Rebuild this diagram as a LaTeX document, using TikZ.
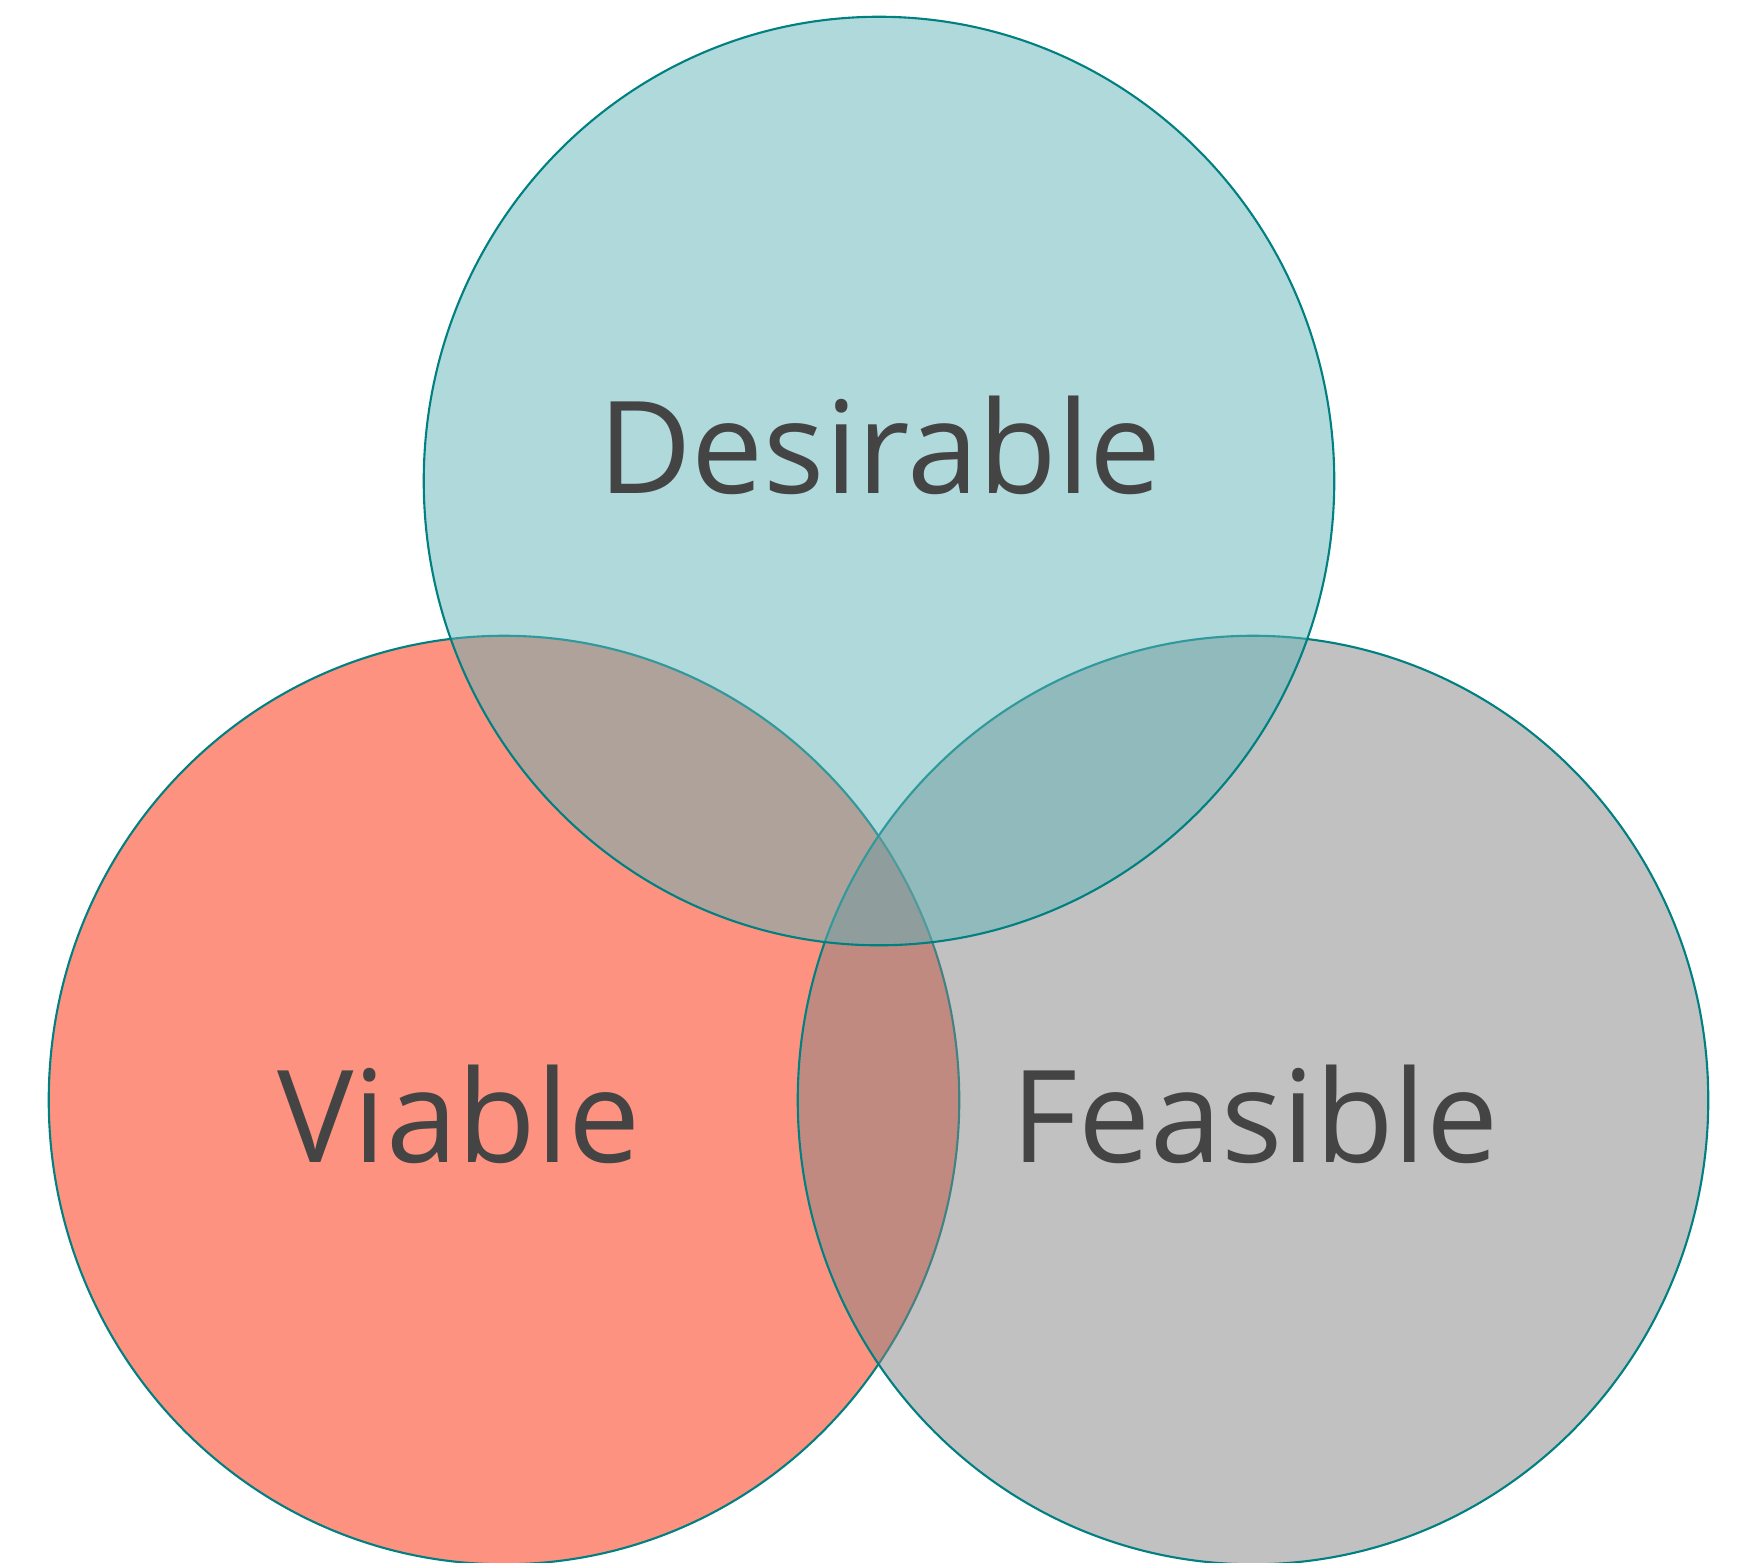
\documentclass[tikz,border=0pt]{standalone}
\usepackage{fontspec}
\setmainfont{Open Sans}
\definecolor{viablefill}{RGB}{250,38,0}
\definecolor{feasiblefill}{RGB}{132,132,132}
\definecolor{desirablefill}{RGB}{97,179,183}
\definecolor{rimteal}{RGB}{0,128,128}
\definecolor{labelgray}{RGB}{68,68,68}
\begin{document}
\begin{tikzpicture}[
  x=0.01cm, y=-0.01cm,
  set/.style={draw=rimteal, line width=0.6pt, fill opacity=0.5},
  setlabel/.style={anchor=base, text=labelgray, inner sep=0pt,
    font=\fontsize{36.5}{44}\selectfont}]

  \useasboundingbox (0,0) rectangle (1737,1562);
  \foreach \cx/\cy/\col in {504/1100/viablefill, 1253/1100/feasiblefill, 879/481/desirablefill}{
    \path[set, fill=\col] (\cx,\cy) ellipse [x radius=4.55cm, y radius=4.64cm];
  }
  \node[setlabel] (desirable) at (880,493) {Desirable};
  \node[setlabel] (viable) at (459,1162) {Viable};
  \node[setlabel] (feasible) at (1255,1162) {Feasible};
\end{tikzpicture}
\end{document}
